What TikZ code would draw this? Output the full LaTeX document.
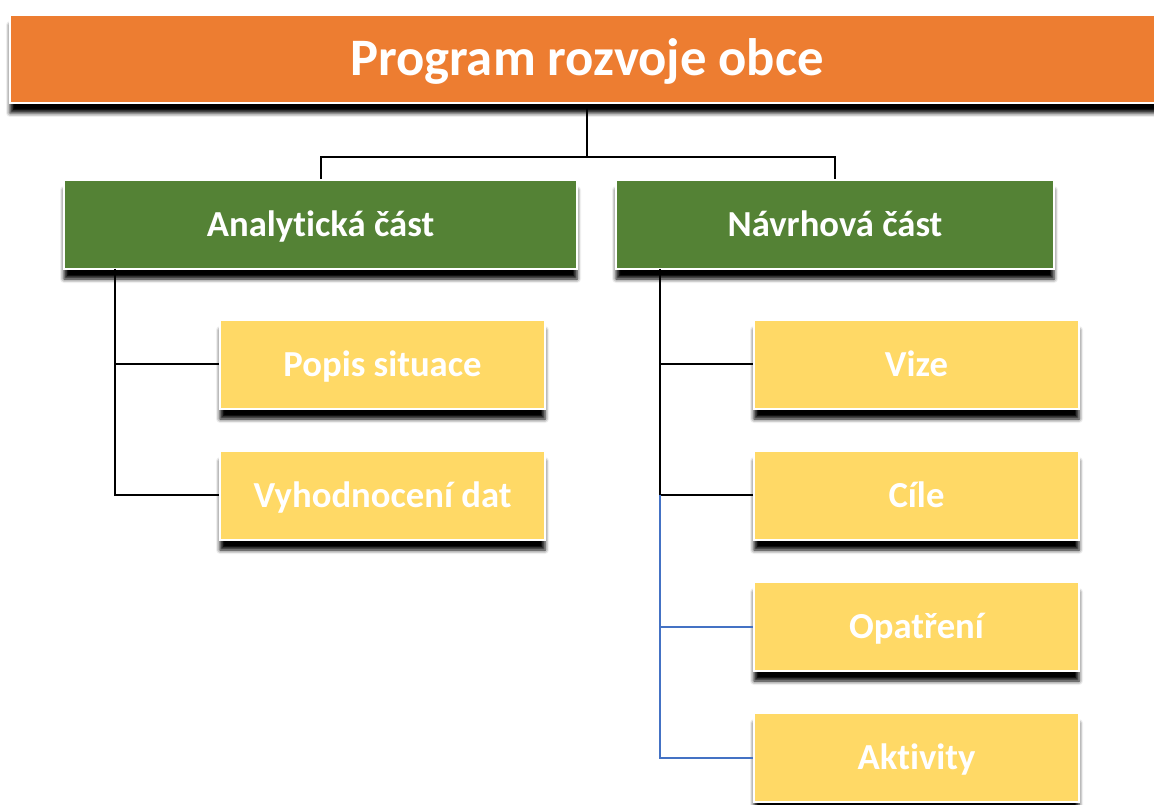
\documentclass[tikz,border=0pt]{standalone}
\usepackage{fontspec}
\setmainfont{Carlito}[Ligatures=NoCommon]
\usetikzlibrary{shadows.blur}
\definecolor{progorange}{HTML}{ED7D31}
\definecolor{partgreen}{HTML}{548235}
\definecolor{itemyellow}{HTML}{FFD966}
\definecolor{linkblue}{HTML}{4472C4}
\begin{document}
\begin{tikzpicture}[x=0.75pt,y=-0.75pt,
	box/.style={draw=white,line width=1.2pt,text=white,font=\bfseries,inner sep=0pt,
		text height=17.7pt,text depth=0pt,
		blur shadow={shadow xshift=0pt,shadow yshift=-7.5pt,shadow blur radius=3pt,shadow opacity=100}},
	prog/.style={box,fill=progorange,minimum width=865.5pt,minimum height=66pt,
		text height=25.4pt,font=\fontsize{39.5}{44}\bfseries},
	part/.style={box,fill=partgreen,minimum height=66.75pt,font=\fontsize{27.5}{32}\bfseries},
	item/.style={box,fill=itemyellow,minimum width=243.75pt,minimum height=66.75pt,font=\fontsize{27.5}{32}\bfseries},
	link/.style={line width=1.5pt,black},
	bluelink/.style={line width=1.5pt,linkblue}]
	\useasboundingbox (0,0) rectangle (1154,805);
	% top
	\node[prog] (prog) at (587,59) {Program rozvoje obce};
	\node[part,minimum width=384.75pt] (ana) at (320.5,224.5) {Analytická část};
	\node[part,minimum width=328.5pt] (nav) at (835,224.5) {Návrhová část};
	% analyticka cast
	\node[item] (pop) at (382.5,364.5) {Popis situace};
	\node[item] (vyh) at (382.5,495.5) {Vyhodnocení dat};
	% navrhova cast
	\node[item] (viz) at (916.5,364.5) {Vize};
	\node[item] (cil) at (916.5,495.5) {Cíle};
	\node[item] (opa) at (916.5,626.5) {Opatření};
	\node[item] (akt) at (916.5,757.5) {Aktivity};
	\coordinate (hub) at (587,157);
	\coordinate (lt) at (115,269);
	\coordinate (rt) at (660,269);
	\draw[link] (prog.south) -- (hub);
	\draw[link] (ana.north) |- (hub) -| (nav.north);
	\draw[link] (lt) |- (pop.west);
	\draw[link] (lt) |- (vyh.west);
	\draw[link] (rt) |- (viz.west);
	\draw[link] (rt) |- (cil.west);
	\draw[bluelink] (cil.west -| rt) |- (opa.west);
	\draw[bluelink] (cil.west -| rt) |- (akt.west);
\end{tikzpicture}
\end{document}
